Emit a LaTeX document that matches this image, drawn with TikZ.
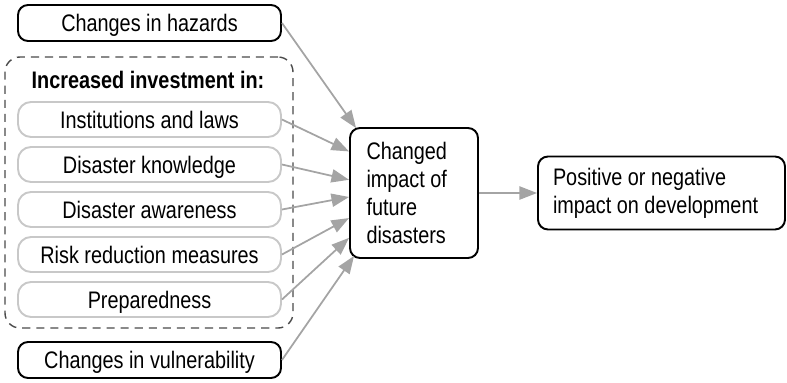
\documentclass[tikz,border=0pt]{standalone}
\usepackage{fontspec}
\setmainfont{Liberation Sans}[FakeStretch=0.83]
\usepackage{tikz}
\usetikzlibrary{positioning,arrows.meta}
\usetikzlibrary{calc}

\definecolor{itemgrey}{HTML}{C8C8C8}
\definecolor{flowgrey}{HTML}{A4A4A4}
\definecolor{dashgrey}{HTML}{4A4A4A}

\tikzset{
  mainbox/.style={draw,line width=1.1pt,rounded corners=0.2cm,minimum width=5.26cm,minimum height=0.72cm,text height=9.7pt,text depth=0pt},
  itembox/.style={draw=itemgrey,line width=1.1pt,rounded corners=0.26cm,minimum width=5.26cm,minimum height=0.7cm,text height=9.7pt,text depth=0pt},
  groupbox/.style={draw=dashgrey,line width=0.8pt,dash pattern=on 4.6pt off 3.4pt,rounded corners=0.3cm},
  flow/.style={draw=flowgrey,line width=1pt,-{Triangle[length=10pt,width=7.5pt]}}
}

\begin{document}
\begin{tikzpicture}[font=\fontsize{13.6}{15.8}\selectfont]
  \useasboundingbox (0,0) rectangle (15.74,7.64);
  \node[groupbox,minimum width=5.76cm,minimum height=5.42cm] (invest) at (2.98,3.79) {};
  \node[text height=9.7pt,text depth=0pt] (head) at (2.96,6.04) {\textbf{Increased investment in:}};
  \node[mainbox] (hazards) at (2.99,7.18) {Changes in hazards};
  \foreach \name/\txt [count=\i] in {inst/Institutions and laws,know/Disaster knowledge,aware/Disaster awareness,risk/Risk reduction measures,prep/Preparedness}
    \node[itembox] (\name) at (2.99,{5.25-0.9*(\i-1)}) {\txt};
  \node[mainbox] (vuln) at (2.99,0.44) {Changes in vulnerability};
  \node[draw,line width=1.1pt,rounded corners=0.2cm,inner xsep=0.33cm,text width=1.9cm,minimum height=2.6cm,align=flush left] (impact) at (8.28,3.78) {Changed\\impact of\\future\\disasters};
  \node[draw,line width=1.1pt,rounded corners=0.2cm,inner xsep=0.3cm,text width=4.34cm,minimum height=1.46cm,align=flush left] (outcome) at (13.23,3.78) {Positive or negative\\impact on development};
  \draw[flow] (hazards.east) -- ($(impact.north west)+(0.14,-0.02)$);
  \foreach \src/\f in {inst/0.185,know/0.40,aware/0.53,risk/0.69,prep/0.84}
    \draw[flow] (\src.east) -- ($(impact.north west)!\f!(impact.south west)$);
  \draw[flow] (vuln.east) -- ($(impact.south west)+(0.1,0.06)$);
  \draw[flow] (impact) -- (outcome);
\end{tikzpicture}
\end{document}
